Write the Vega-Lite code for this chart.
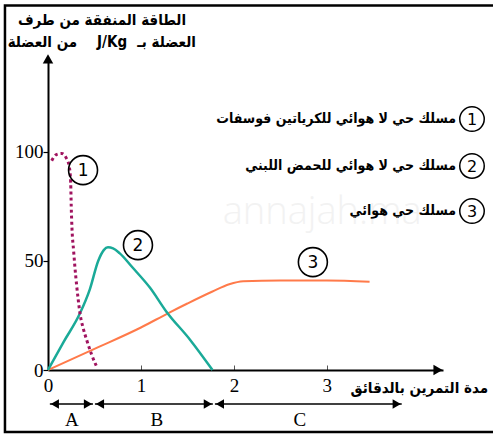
{
  "$schema": "https://vega.github.io/schema/vega-lite/v6.json",
  "autosize": {"type": "none"},
  "padding": {"left": 48, "top": 60, "right": 50, "bottom": 65},
  "width": 395,
  "height": 310,
  "background": "white",
  "config": {"view": {"stroke": null}},
  "datasets": {
    "curves": [
      {"c": 1, "x": 0.04, "y": 96}, {"c": 1, "x": 0.09, "y": 98.8}, {"c": 1, "x": 0.147, "y": 99.3}, {"c": 1, "x": 0.2, "y": 97}, {"c": 1, "x": 0.23, "y": 93}, {"c": 1, "x": 0.244, "y": 86}, {"c": 1, "x": 0.25, "y": 75}, {"c": 1, "x": 0.258, "y": 65}, {"c": 1, "x": 0.275, "y": 55}, {"c": 1, "x": 0.29, "y": 47}, {"c": 1, "x": 0.326, "y": 32}, {"c": 1, "x": 0.344, "y": 26}, {"c": 1, "x": 0.38, "y": 19}, {"c": 1, "x": 0.416, "y": 13.8}, {"c": 1, "x": 0.47, "y": 7}, {"c": 1, "x": 0.524, "y": 1.5},
      {"c": 2, "x": 0, "y": 0}, {"c": 2, "x": 0.17, "y": 13}, {"c": 2, "x": 0.344, "y": 26}, {"c": 2, "x": 0.45, "y": 37}, {"c": 2, "x": 0.54, "y": 50}, {"c": 2, "x": 0.6, "y": 55}, {"c": 2, "x": 0.645, "y": 56.3}, {"c": 2, "x": 0.7, "y": 55.8}, {"c": 2, "x": 0.77, "y": 53.6}, {"c": 2, "x": 0.91, "y": 47}, {"c": 2, "x": 1.1, "y": 37.6}, {"c": 2, "x": 1.27, "y": 27}, {"c": 2, "x": 1.53, "y": 13.8}, {"c": 2, "x": 1.77, "y": 0},
      {"c": 3, "x": 0, "y": 0}, {"c": 3, "x": 0.5, "y": 9.7}, {"c": 3, "x": 1.0, "y": 19.5}, {"c": 3, "x": 1.29, "y": 26}, {"c": 3, "x": 1.5, "y": 30.5}, {"c": 3, "x": 1.77, "y": 36}, {"c": 3, "x": 1.95, "y": 39.3}, {"c": 3, "x": 2.1, "y": 40.7}, {"c": 3, "x": 2.5, "y": 41.1}, {"c": 3, "x": 3.0, "y": 41}, {"c": 3, "x": 3.46, "y": 40.5}
    ],
    "marks": [
      {"t": "1", "x": 0.377, "y": 91.7},
      {"t": "2", "x": 0.968, "y": 57.3},
      {"t": "3", "x": 2.85, "y": 49.5}
    ],
    "legend": [
      {"t": "1", "x": 4.562, "tx": 4.39, "y": 115.1, "label": "مسلك حي لا هوائي للكرياتين فوسفات"},
      {"t": "2", "x": 4.562, "tx": 4.39, "y": 93.6, "label": "مسلك حي لا هوائي للحمض اللبني"},
      {"t": "3", "x": 4.562, "tx": 4.39, "y": 72.9, "label": "مسلك حي هوائي"}
    ],
    "phases": [
      {"t": "A", "x": 0.02, "x2": 0.484, "lx": 0.258, "y": -15.6, "ly": -22.9},
      {"t": "B", "x": 0.505, "x2": 1.774, "lx": 1.172, "y": -15.6, "ly": -22.9},
      {"t": "C", "x": 1.796, "x2": 3.806, "lx": 2.71, "y": -15.6, "ly": -22.9}
    ],
    "texts": [
      {"x": 0.581, "y": 160.6, "t": "الطاقة المنفقة من طرف"},
      {"x": -0.06, "y": 150.5, "t": "من العضلة"},
      {"x": 0.69, "y": 150.5, "t": "J/Kg"},
      {"x": 1.275, "y": 150.5, "t": "العضلة بـ"}
    ],
    "frame": [{"x": -0.463, "x2": 5, "y": 167.2, "y2": -28.4}],
    "arrows": [
      {"x": 0, "y": 142.7, "s": "triangle-up"},
      {"x": 4.196, "y": 0, "s": "triangle-right"}
    ]
  },
  "encoding": {
    "x": {"field": "x", "type": "quantitative", "scale": {"domain": [0, 4.25], "nice": false, "zero": false}},
    "y": {"field": "y", "type": "quantitative", "scale": {"domain": [0, 142.2], "nice": false, "zero": false}}
  },
  "layer": [
    {
      "data": {"name": "frame"},
      "mark": {"type": "rect", "fill": null, "stroke": "black", "strokeWidth": 2.5},
      "encoding": {"x2": {"field": "x2"}, "y2": {"field": "y2"}}
    },
    {
      "data": {"values": [{"x": 2.95, "y": 72, "t": "annajah.ma"}]},
      "mark": {"type": "text", "font": "Open Sans", "fontSize": 38, "fontWeight": 300, "color": "#f2f2f2", "baseline": "middle", "align": "center"},
      "encoding": {"text": {"field": "t"}}
    },
    {
      "data": {"name": "curves"},
      "transform": [{"filter": "datum.c == 3"}],
      "mark": {"type": "line", "color": "#ff7a4a", "strokeWidth": 2, "interpolate": "monotone"},
      "encoding": {
        "x": {"field": "x", "type": "quantitative", "axis": {"values": [0, 1, 2, 3], "format": "d", "title": null, "grid": false, "domain": true, "domainColor": "black", "domainWidth": 2, "tickSize": -5, "tickColor": "#555", "tickWidth": 1, "labelFont": "Liberation Serif", "labelFontSize": 19, "labelColor": "black", "labelPadding": 11, "labelFlush": false}},
        "y": {"field": "y", "type": "quantitative", "axis": {"values": [0, 50, 100], "format": "d", "title": null, "grid": false, "domain": true, "domainColor": "black", "domainWidth": 2, "tickSize": 5, "tickColor": "black", "tickWidth": 1.2, "labelFont": "Liberation Serif", "labelFontSize": 19, "labelColor": "black", "labelPadding": 0, "labelFlush": false}}
      }
    },
    {
      "data": {"name": "curves"},
      "transform": [{"filter": "datum.c == 2"}],
      "mark": {"type": "line", "color": "#1aaa98", "strokeWidth": 2.5, "interpolate": "monotone"}
    },
    {
      "data": {"name": "curves"},
      "transform": [{"filter": "datum.c == 1"}],
      "mark": {"type": "line", "color": "#a0135f", "strokeWidth": 3, "strokeDash": [3, 3], "interpolate": "monotone"}
    },
    {
      "data": {"name": "arrows"},
      "mark": {"type": "point", "filled": true, "color": "black", "size": 110, "opacity": 1},
      "encoding": {"shape": {"field": "s", "type": "nominal", "scale": null}}
    },
    {
      "data": {"name": "marks"},
      "mark": {"type": "point", "shape": "circle", "size": 840, "fill": "white", "fillOpacity": 0, "stroke": "black", "strokeWidth": 1.6, "opacity": 1}
    },
    {
      "data": {"name": "marks"},
      "mark": {"type": "text", "font": "DejaVu Sans", "fontSize": 17, "color": "black", "baseline": "middle", "align": "center", "dy": 1},
      "encoding": {"text": {"field": "t"}}
    },
    {
      "data": {"name": "legend"},
      "mark": {"type": "point", "shape": "circle", "size": 600, "fill": "white", "fillOpacity": 0, "stroke": "black", "strokeWidth": 1.5, "opacity": 1}
    },
    {
      "data": {"name": "legend"},
      "mark": {"type": "text", "font": "DejaVu Sans", "fontSize": 16, "color": "black", "baseline": "middle", "align": "center", "dy": 1},
      "encoding": {"text": {"field": "t"}}
    },
    {
      "data": {"name": "legend"},
      "mark": {"type": "text", "font": "DejaVu Sans Condensed", "fontWeight": "bold", "fontSize": 14, "color": "black", "baseline": "middle", "align": "right"},
      "encoding": {"x": {"field": "tx"}, "text": {"field": "label"}}
    },
    {
      "data": {"name": "texts"},
      "mark": {"type": "text", "font": "DejaVu Sans Condensed", "fontWeight": "bold", "fontSize": 15, "color": "black", "baseline": "middle", "align": "center"},
      "encoding": {"text": {"field": "t"}}
    },
    {
      "data": {"values": [{"x": 4.735, "y": -8.3, "t": "مدة التمرين بالدقائق"}]},
      "mark": {"type": "text", "font": "DejaVu Sans Condensed", "fontWeight": "bold", "fontSize": 15, "color": "black", "baseline": "middle", "align": "right"},
      "encoding": {"text": {"field": "t"}}
    },
    {
      "data": {"name": "phases"},
      "mark": {"type": "rule", "color": "black", "strokeWidth": 1.5},
      "encoding": {"x2": {"field": "x2"}}
    },
    {
      "data": {"name": "phases"},
      "mark": {"type": "point", "shape": "triangle-left", "filled": true, "color": "black", "size": 90, "opacity": 1, "xOffset": 5}
    },
    {
      "data": {"name": "phases"},
      "mark": {"type": "point", "shape": "triangle-right", "filled": true, "color": "black", "size": 90, "opacity": 1, "xOffset": -5},
      "encoding": {"x": {"field": "x2", "type": "quantitative"}}
    },
    {
      "data": {"name": "phases"},
      "mark": {"type": "text", "font": "Liberation Serif", "fontSize": 19, "color": "black", "baseline": "middle", "align": "center"},
      "encoding": {"x": {"field": "lx", "type": "quantitative"}, "y": {"field": "ly", "type": "quantitative"}, "text": {"field": "t"}}
    }
  ]
}
